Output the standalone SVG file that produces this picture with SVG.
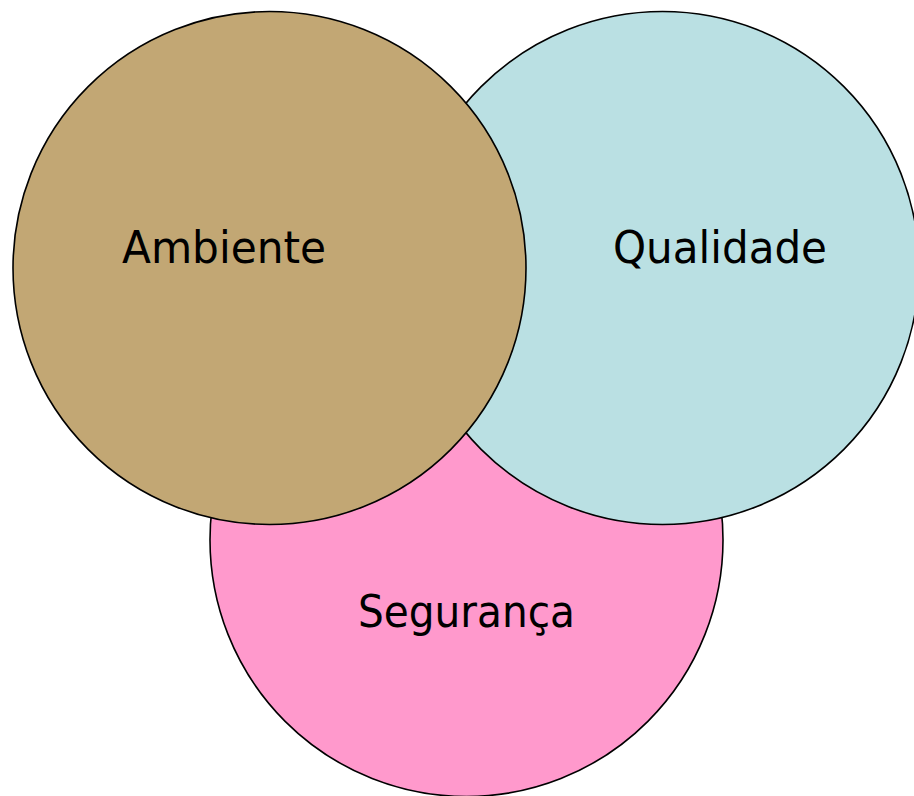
<svg xmlns="http://www.w3.org/2000/svg" width="914" height="796" viewBox="0 0 914 796">
<style>
.c{stroke:#000;stroke-width:1.6}
.t{font-family:"DejaVu Sans","Liberation Sans",sans-serif;font-size:45px;fill:#000}
</style>
<rect width="914" height="796" fill="#fff"/>
<g id="seguranca">
<circle class="c" cx="466.5" cy="540" r="256.5" fill="#FF99CC"/>
<text class="t" x="358" y="627" textLength="217" lengthAdjust="spacingAndGlyphs">Segurança</text>
</g>
<g id="qualidade">
<circle class="c" cx="662.5" cy="268" r="256.5" fill="#BAE0E3"/>
<text class="t" x="613" y="263" textLength="214" lengthAdjust="spacingAndGlyphs">Qualidade</text>
</g>
<g id="ambiente">
<circle class="c" cx="269.5" cy="268" r="256.5" fill="#C2A774"/>
<text class="t" x="122" y="263" textLength="204" lengthAdjust="spacingAndGlyphs">Ambiente</text>
</g>
<g id="connectors"></g>
</svg>
